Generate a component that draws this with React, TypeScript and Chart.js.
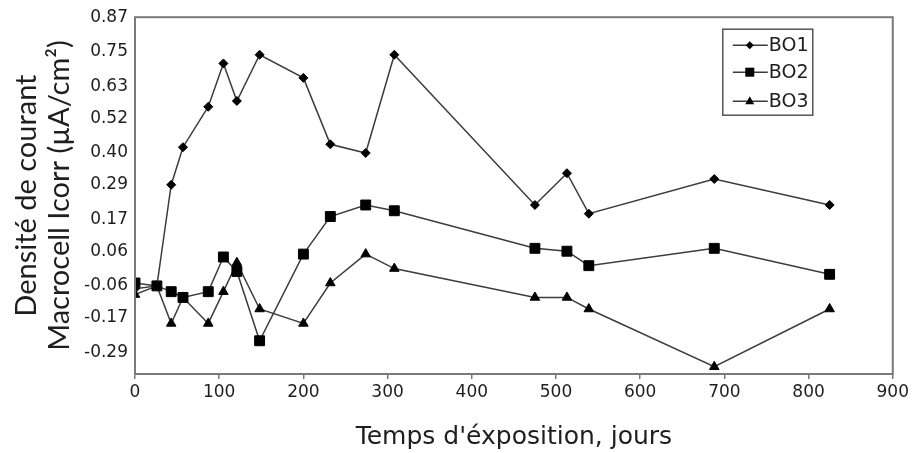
import React, { useEffect, useRef } from "react";
import { Chart, registerables } from "chart.js";

Chart.register(...registerables);

const days = [0, 26, 43, 57, 87, 105, 121, 148, 200, 232, 274, 308, 475, 513, 539, 688, 825];
const bo1 = [-0.07, -0.06, 0.29, 0.42, 0.56, 0.71, 0.58, 0.74, 0.66, 0.43, 0.40, 0.74, 0.22, 0.33, 0.19, 0.31, 0.22];
const bo2 = [-0.05, -0.06, -0.08, -0.10, -0.08, 0.04, -0.01, -0.25, 0.05, 0.18, 0.22, 0.20, 0.07, 0.06, 0.01, 0.07, -0.02];
const bo3 = [-0.09, -0.06, -0.19, -0.10, -0.19, -0.08, 0.02, -0.14, -0.19, -0.05, 0.05, 0.00, -0.10, -0.10, -0.14, -0.34, -0.14];
const seriesNames = ["BO1", "BO2", "BO3"];
const yTickValues = [0.87, 0.75, 0.63, 0.52, 0.40, 0.29, 0.17, 0.06, -0.06, -0.17, -0.29];
const xTitle = "Temps d'éxposition, jours";
const yTitle = ["Densité de courant", "Macrocell Icorr (µA/cm²)"];

const LINE = "#3c3c3c";
const TEXT = "#1e1e1e";

function drawMarker(ctx: CanvasRenderingContext2D, kind: string, x: number, y: number) {
  ctx.beginPath();
  if (kind === "diamond") {
    const r = 4;
    ctx.moveTo(x, y - r);
    ctx.lineTo(x + r, y);
    ctx.lineTo(x, y + r);
    ctx.lineTo(x - r, y);
  } else if (kind === "square") {
    ctx.rect(x - 4.5, y - 4.5, 9, 9);
  } else {
    ctx.moveTo(x, y - 5);
    ctx.lineTo(x + 4.5, y + 3);
    ctx.lineTo(x - 4.5, y + 3);
  }
  ctx.closePath();
  ctx.fillStyle = "#000";
  ctx.fill();
}

const boxPlugin = {
  id: "boxAndLegend",
  afterDraw(chart: any) {
    const { ctx, chartArea } = chart;
    ctx.save();
    ctx.strokeStyle = "#7a7a7a";
    ctx.lineWidth = 2;
    ctx.strokeRect(chartArea.left, chartArea.top, chartArea.right - chartArea.left, chartArea.bottom - chartArea.top);

    // legend
    const lx = chartArea.right - 170;
    const ly = chartArea.top + 12;
    ctx.strokeStyle = "#555";
    ctx.lineWidth = 1.5;
    ctx.strokeRect(lx, ly, 90, 86);
    const kinds = ["diamond", "square", "triangle"];
    const rows = [16, 43, 72];
    chart.data.datasets.forEach((ds: any, i: number) => {
      const y = ly + rows[i];
      ctx.strokeStyle = LINE;
      ctx.lineWidth = 1.5;
      ctx.beginPath();
      ctx.moveTo(lx + 10, y);
      ctx.lineTo(lx + 45, y);
      ctx.stroke();
      drawMarker(ctx, kinds[i], lx + 27, y);
      ctx.fillStyle = TEXT;
      ctx.font = "19px 'DejaVu Sans'";
      ctx.textBaseline = "middle";
      ctx.textAlign = "left";
      ctx.fillText(ds.label, lx + 46, y + 1);
    });
    ctx.restore();
  },
};

export default function App() {
  const ref = useRef<HTMLCanvasElement | null>(null);
  useEffect(() => {
    if (!ref.current) return;
    const mk = (vals: number[]) => days.map((d, i) => ({ x: d, y: vals[i] }));
    const chart = new Chart(ref.current, {
      type: "line",
      data: {
        datasets: [
          { label: seriesNames[0], data: mk(bo1), pointStyle: "rectRot", pointRadius: 4.5 },
          { label: seriesNames[1], data: mk(bo2), pointStyle: "rect", pointRadius: 7 },
          { label: seriesNames[2], data: mk(bo3), pointStyle: "triangle", pointRadius: 5.5 },
        ].map((d) => ({
          ...d,
          borderColor: LINE,
          borderWidth: 1.5,
          pointBackgroundColor: "#000",
          pointBorderColor: "#000",
          pointBorderWidth: 1,
          tension: 0,
          fill: false,
        })),
      },
      options: {
        animation: false,
        responsive: false,
        layout: { padding: { top: 15, right: 19, left: 0, bottom: 0 } },
        plugins: { legend: { display: false }, tooltip: { enabled: false } },
        scales: {
          x: {
            type: "linear",
            min: 0,
            max: 900,
            afterFit: (s: any) => { s.height = 79; },
            ticks: { stepSize: 100, color: TEXT, font: { family: "DejaVu Sans", size: 17 }, padding: 3, maxRotation: 0 },
            grid: { display: true, drawOnChartArea: false, drawTicks: true, tickLength: 5, color: "#7a7a7a", lineWidth: 1.5 },
            border: { display: false },
            title: { display: true, text: xTitle, color: TEXT, font: { family: "DejaVu Sans", size: 25 }, padding: { top: 0, bottom: 1 } },
          },
          y: {
            type: "linear",
            min: -0.365,
            max: 0.87,
            afterFit: (s: any) => { s.width = 135; },
            afterBuildTicks: (s: any) => { s.ticks = yTickValues.map((v) => ({ value: v })); },
            ticks: {
              color: TEXT,
              font: { family: "DejaVu Sans", size: 17 },
              padding: 7,
              callback: (v: any) => Number(v).toFixed(2),
            },
            grid: { display: false, drawTicks: false },
            border: { display: false },
            title: { display: true, text: yTitle, color: TEXT, font: { family: "Lato", size: 29, lineHeight: 1.14 }, padding: { top: 10, bottom: 0 } },
          },
        },
      },
      plugins: [boxPlugin],
    } as any);
    return () => chart.destroy();
  }, []);
  return (
    <div style={{ position: "absolute", left: 0, top: 0, width: 912, height: 453, background: "#fff" }}>
      <canvas ref={ref} width={912} height={453} style={{ display: "block" }} />
    </div>
  );
}
